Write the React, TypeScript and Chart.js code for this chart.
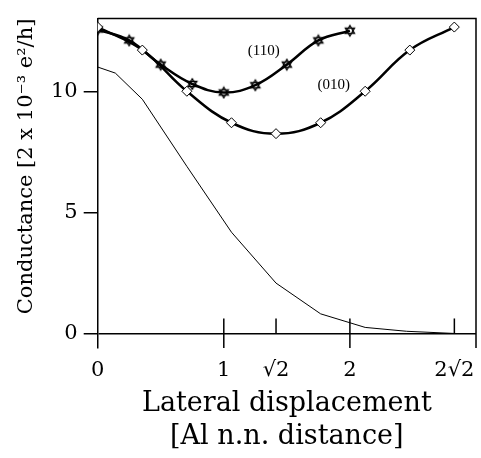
import React, { useEffect, useRef } from 'react';
import { Chart, registerables } from 'chart.js';

Chart.register(...registerables);

// (110) direction, star markers
const x110 = [0, 0.25, 0.5, 0.75, 1, 1.25, 1.5, 1.75, 2];
const g110 = [12.55, 12.1, 11.1, 10.3, 9.95, 10.25, 11.1, 12.1, 12.5];
// (010) direction, diamond markers
const x010 = [0, 0.354, 0.707, 1.061, 1.414, 1.768, 2.121, 2.475, 2.828];
const g010 = [12.65, 11.7, 10.0, 8.7, 8.25, 8.7, 10.0, 11.7, 12.65];
// thin reference curve
const xThin = [0, 0.14, 0.354, 0.707, 1.061, 1.414, 1.768, 2.121, 2.45, 2.828];
const gThin = [11.0, 10.75, 9.67, 6.9, 4.18, 2.08, 0.81, 0.25, 0.09, 0.0];

const xTickValues = [0, 1, 1.4142, 2, 2.8284];
const xTickLabels = ['0', '1', '√2', '2', '2√2'];
const xCrossTicks = [1, 2];
const xUpTicks = [1.4142, 2.8284];
const yTickValues = [0, 5, 10];

const labelTexts = ['(110)', '(010)'];
const labelX = [1.317, 1.871];
const labelY = [11.68, 10.25];

const X_MIN = 0;
const X_MAX = 3;
const Y_MIN = -0.6;
const Y_MAX = 13;

function makeStar(): HTMLCanvasElement {
  const c = document.createElement('canvas');
  c.width = 14;
  c.height = 14;
  const g = c.getContext('2d')!;
  g.strokeStyle = '#000';
  g.lineWidth = 1.3;
  const cx = 7, cy = 7, r = 5.3;
  for (const off of [-Math.PI / 2, Math.PI / 2]) {
    g.beginPath();
    for (let i = 0; i < 3; i++) {
      const a = off + (i * 2 * Math.PI) / 3;
      const px = cx + r * Math.cos(a);
      const py = cy + r * Math.sin(a);
      if (i === 0) g.moveTo(px, py); else g.lineTo(px, py);
    }
    g.closePath();
    g.stroke();
  }
  return c;
}

const toPts = (xs: number[], ys: number[]) => xs.map((x, i) => ({ x, y: ys[i] }));

const decor = {
  id: 'decor',
  afterDraw(chart: any) {
    const { ctx, chartArea, scales } = chart;
    const xs = scales.x;
    const ys = scales.y;
    ctx.save();
    ctx.strokeStyle = '#000';
    ctx.lineWidth = 1.5;
    // top and right frame
    ctx.beginPath();
    ctx.moveTo(chartArea.left, chartArea.top);
    ctx.lineTo(chartArea.right, chartArea.top);
    ctx.lineTo(chartArea.right, chartArea.bottom);
    ctx.stroke();
    const y0 = ys.getPixelForValue(0);
    const up = y0 - 15;
    for (const v of xCrossTicks) {
      const px = xs.getPixelForValue(v);
      ctx.beginPath();
      ctx.moveTo(px, up);
      ctx.lineTo(px, chartArea.bottom);
      ctx.stroke();
    }
    for (const v of xUpTicks) {
      const px = xs.getPixelForValue(v);
      ctx.beginPath();
      ctx.moveTo(px, up);
      ctx.lineTo(px, y0);
      ctx.stroke();
    }
    // curve labels
    ctx.fillStyle = '#000';
    ctx.font = '15px "Liberation Serif"';
    ctx.textAlign = 'center';
    ctx.textBaseline = 'middle';
    labelTexts.forEach((t, i) => {
      ctx.fillText(t, xs.getPixelForValue(labelX[i]), ys.getPixelForValue(labelY[i]));
    });
    ctx.restore();
  },
};

export default function App() {
  const ref = useRef<HTMLCanvasElement | null>(null);
  useEffect(() => {
    if (!ref.current) return;
    const star = makeStar();
    const chart = new Chart(ref.current, {
      type: 'line',
      data: {
        datasets: [
          {
            label: 'thin',
            data: toPts(xThin, gThin),
            borderColor: '#000',
            borderWidth: 1,
            pointRadius: 0,
            tension: 0,
          },
          {
            label: '(010)',
            data: toPts(x010, g010),
            borderColor: '#000',
            borderWidth: 2.5,
            tension: 0.4,
            pointStyle: 'rectRot',
            pointRadius: 5,
            pointBorderWidth: 1,
            pointBorderColor: '#000',
            pointBackgroundColor: '#fff',
          },
          {
            label: '(110)',
            data: toPts(x110, g110),
            borderColor: '#000',
            borderWidth: 2.5,
            tension: 0.4,
            pointStyle: star as any,
            pointRadius: 6,
          },
        ],
      },
      plugins: [decor],
      options: {
        responsive: false,
        animation: false,
        events: [],
        layout: { padding: { left: 0, top: 7, right: 5, bottom: 0 }, autoPadding: false } as any,
        plugins: { legend: { display: false }, tooltip: { enabled: false } },
        scales: {
          x: {
            type: 'linear',
            min: X_MIN,
            max: X_MAX,
            afterBuildTicks: (s: any) => { s.ticks = xTickValues.map((v) => ({ value: v })); },
            afterFit: (s: any) => { s.height = 110; },
            grid: { display: false },
            border: { display: false },
            ticks: {
              padding: 2,
              color: '#000',
              maxRotation: 0,
              autoSkip: false,
              font: { family: '"DejaVu Serif"', size: 21 },
              callback: (_v: any, i: number) => xTickLabels[i],
            },
            title: {
              display: true,
              text: ['Lateral displacement', '[Al n.n. distance]'],
              color: '#000',
              font: { family: '"DejaVu Serif"', size: 27, lineHeight: 1.222 },
              padding: { top: 0, bottom: 4.5 },
            },
          },
          y: {
            type: 'linear',
            min: Y_MIN,
            max: Y_MAX,
            afterBuildTicks: (s: any) => { s.ticks = yTickValues.map((v) => ({ value: v })); },
            afterFit: (s: any) => { s.width = 97.7; },
            grid: {
              drawOnChartArea: true,
              color: (c: any) => (c.tick && c.tick.value === 0 ? '#000' : 'rgba(0,0,0,0)'),
              tickColor: '#000',
              tickLength: 14,
              lineWidth: 1.5,
            },
            border: { display: true, color: '#000', width: 1.5 },
            ticks: {
              padding: 6,
              color: '#000',
              font: { family: '"DejaVu Serif"', size: 21 },
              callback: (v: any) => String(v),
            },
            title: {
              display: true,
              text: 'Conductance [2 x 10⁻³ e²/h]',
              align: 'end',
              color: '#000',
              font: { family: '"DejaVu Serif"', size: 21, lineHeight: 1.2 },
              padding: { top: 13.5, bottom: 0 },
            },
          },
        },
      } as any,
    });
    return () => chart.destroy();
  }, []);
  return (
    <div style={{ position: 'absolute', left: 0, top: 0, width: 481, height: 458 }}>
      <canvas ref={ref} width={481} height={458} />
    </div>
  );
}
